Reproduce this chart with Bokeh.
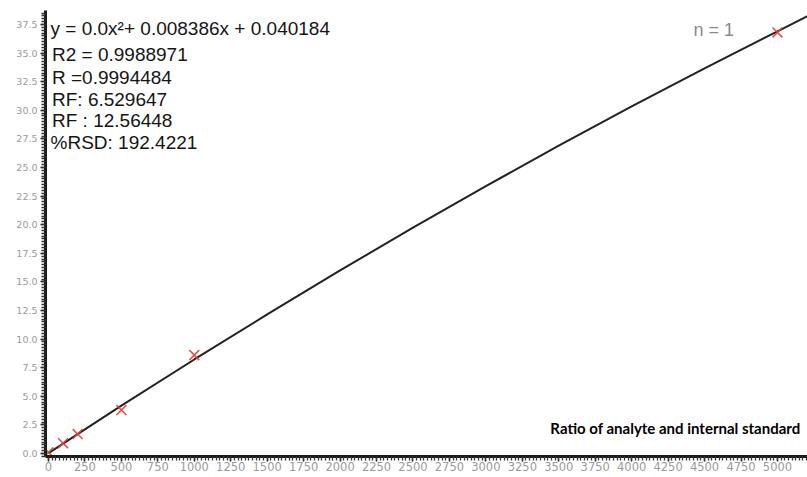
from bokeh.plotting import figure
from bokeh.models import Range1d, SingleIntervalTicker, PrintfTickFormatter, Label
from bokeh.embed import file_html
from bokeh.resources import INLINE

# Calibration points (ratio of analyte / internal standard vs response)
conc = [0, 100, 200, 500, 1000, 5000]
resp = [0.1, 0.9, 1.7, 3.8, 8.6, 36.8]

# Fitted curve
fit_x = [0, 500, 1000, 1500, 2000, 2500, 3000, 3500, 4000, 4500, 5000, 5250]
fit_y = [0.04, 4.18, 8.22, 12.16, 16.0, 19.74, 23.37, 26.9, 30.34, 33.67, 36.9, 38.5]

annot_lines = [
    "y = 0.0x\u00b2+ 0.008386x + 0.040184",
    "R2 = 0.9988971",
    "R =0.9994484",
    "RF: 6.529647",
    "RF : 12.56448",
    "%RSD: 192.4221",
]
annot_y = [37.15, 34.9, 32.9, 30.95, 29.1, 27.2]
annot_x = [14, 24, 24, 24, 24, 14]

p = figure(width=807, height=477, output_backend="svg", toolbar_location=None,
           x_range=Range1d(-20.6, 5206), y_range=Range1d(-0.26, 38.72),
           min_border_left=45, min_border_right=0, min_border_top=10, min_border_bottom=21)
p.outline_line_color = None
p.xgrid.visible = False
p.ygrid.visible = False
p.background_fill_color = "white"
p.border_fill_color = "white"

p.xaxis.ticker = SingleIntervalTicker(interval=250, num_minor_ticks=10)
p.yaxis.ticker = SingleIntervalTicker(interval=2.5, num_minor_ticks=10)
p.xaxis.formatter = PrintfTickFormatter(format="%d")
p.yaxis.formatter = PrintfTickFormatter(format="%.1f")

for ax in (p.xaxis, p.yaxis):
    ax.axis_line_width = 3
    ax.axis_line_color = "#1a1a1a"
    ax.major_tick_line_color = "#1a1a1a"
    ax.minor_tick_line_color = "#333333"
    ax.major_tick_line_width = 1.5
    ax.minor_tick_line_width = 1.3
    ax.major_tick_in = 0
    ax.minor_tick_in = 0
    ax.major_tick_out = 5
    ax.minor_tick_out = 4
    ax.major_label_text_color = "#9a9a9a"
    ax.major_label_text_font = "DejaVu Sans"

p.xaxis.major_label_text_font_size = "11.5px"
p.yaxis.major_label_text_font_size = "9.5px"
p.xaxis.major_label_standoff = 0
p.yaxis.major_label_standoff = 3

p.line(fit_x, fit_y, line_color="#222222", line_width=2)
p.scatter(conc, resp, marker="x", size=14, line_color="#e0403a", line_width=1.6, line_alpha=0.9)

for t, xx, yy in zip(annot_lines, annot_x, annot_y):
    p.add_layout(Label(x=xx, y=yy, text=t, text_font="Liberation Sans", text_font_size="19px",
                       text_color="#151515", text_baseline="middle", text_align="left"))

p.add_layout(Label(x=4424, y=36.98, text="n = 1", text_font="Liberation Sans", text_font_size="18px",
                   text_color="#8a8a8a", text_baseline="middle", text_align="left"))
p.add_layout(Label(x=5158, y=2.19, text="Ratio of analyte and internal standard", text_font="Lato",
                   text_font_size="15px", text_font_style="bold", text_color="#000000",
                   text_baseline="middle", text_align="right"))

open("out.html", "w").write(file_html(p, INLINE))
